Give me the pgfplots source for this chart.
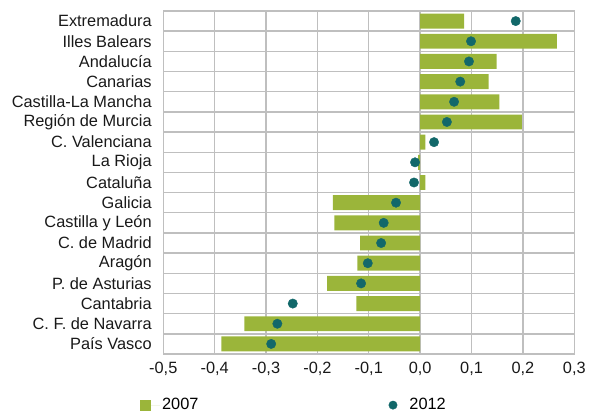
\documentclass[border=0pt]{standalone}
\usepackage{fontspec}
\setmainfont{Liberation Sans}
\usepackage{pgfplots}
\pgfplotsset{compat=1.18}
\definecolor{barg}{HTML}{9BB53A}
\definecolor{dott}{HTML}{12686A}
\definecolor{gridc}{HTML}{BFBFBF}
\begin{document}
\fontsize{16.4}{19}\selectfont
\begin{tikzpicture}
\useasboundingbox (-163.3bp,-60bp) rectangle (428.7bp,354bp);
\begin{axis}[
  scale only axis,
  width=411bp, height=343bp,
  xmin=-0.5, xmax=0.3,
  ymin=-0.5, ymax=16.5,
  y dir=reverse,
  xtick={-0.5,-0.4,...,0.31},
  ytick={0,...,16},
  yticklabels={Extremadura,Illes Balears,Andalucía,Canarias,Castilla-La Mancha,Región de Murcia,C. Valenciana,La Rioja,Cataluña,Galicia,Castilla y León,C. de Madrid,Aragón,P. de Asturias,Cantabria,C. F. de Navarra,País Vasco},
  minor ytick={0.5,1.5,...,15.5},
  xmajorgrids, yminorgrids,
  grid style={gridc, line width=1.4bp},
  minor grid style={gridc, line width=1.4bp},
  axis line style={gridc, line width=1.4bp},
  major tick length=0pt, minor tick length=0pt,
  tick style={draw=none},
  /pgf/number format/assume math mode=true,
  /pgf/number format/use comma,
  /pgf/number format/fixed,
  /pgf/number format/fixed zerofill,
  /pgf/number format/precision=1,
  xticklabel style={yshift=-2bp},
  yticklabel style={xshift=-6bp},
  tick label style={text=black!90},
  legend columns=2,
  legend style={draw=none, at={(0.318,-0.149)}, anchor=center, fill=none,
    /tikz/every even column/.append style={column sep=187bp}},
]
\addplot[xbar, bar width=0.74, bar shift=0pt, fill=barg, draw=none,
  legend image code/.code={\fill[barg] (0bp,-5.5bp) rectangle (11bp,5.5bp); \path[draw=none] (0bp,0bp) -- (20bp,0bp);}]
coordinates {
(0.0855,0) (0.266,1) (0.149,2) (0.133,3) (0.154,4) (0.198,5) (0.010,6) (-0.004,7) (0.010,8)
(-0.170,9) (-0.167,10) (-0.117,11) (-0.122,12) (-0.181,13) (-0.124,14) (-0.342,15) (-0.387,16)
};
\addlegendentry{2007}
\addplot[only marks, mark=*, mark size=4.7bp, color=dott,
  legend image code/.code={\fill[dott] (5.5bp,0bp) circle (4.2bp); \path[draw=none] (0bp,0bp) -- (20bp,0bp);}]
coordinates {
(0.186,0) (0.099,1) (0.095,2) (0.078,3) (0.066,4) (0.052,5) (0.027,6) (-0.010,7) (-0.012,8)
(-0.047,9) (-0.071,10) (-0.076,11) (-0.102,12) (-0.115,13) (-0.248,14) (-0.278,15) (-0.290,16)
};
\addlegendentry{2012}
\end{axis}
\end{tikzpicture}
\end{document}
